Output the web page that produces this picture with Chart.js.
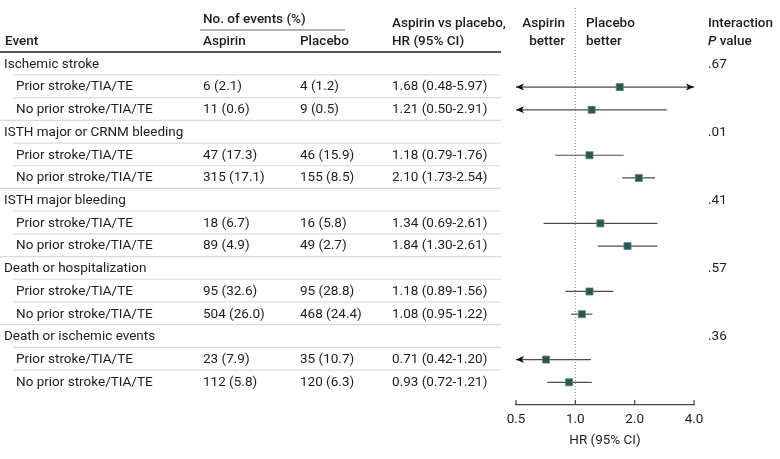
<!DOCTYPE html>
<html>
<head>
<meta charset="utf-8">
<script src="https://cdn.jsdelivr.net/npm/chart.js@4.4.1/dist/chart.umd.min.js"></script>
<style>
  html, body { margin: 0; padding: 0; background: #fff; }
  canvas { display: block; }
</style>
</head>
<body>
<canvas id="forest" width="780" height="459"></canvas>
<script>
const outcomes = ['Ischemic stroke', 'ISTH major or CRNM bleeding', 'ISTH major bleeding', 'Death or hospitalization', 'Death or ischemic events'];
const subgroups = ['Prior stroke/TIA/TE', 'No prior stroke/TIA/TE'];
const aspirinEvents = ['6 (2.1)', '11 (0.6)', '47 (17.3)', '315 (17.1)', '18 (6.7)', '89 (4.9)', '95 (32.6)', '504 (26.0)', '23 (7.9)', '112 (5.8)'];
const placeboEvents = ['4 (1.2)', '9 (0.5)', '46 (15.9)', '155 (8.5)', '16 (5.8)', '49 (2.7)', '95 (28.8)', '468 (24.4)', '35 (10.7)', '120 (6.3)'];
const hr = [1.68, 1.21, 1.18, 2.10, 1.34, 1.84, 1.18, 1.08, 0.71, 0.93];
const ciLow = [0.48, 0.50, 0.79, 1.73, 0.69, 1.30, 0.89, 0.95, 0.42, 0.72];
const ciHigh = [5.97, 2.91, 1.76, 2.54, 2.61, 2.61, 1.56, 1.22, 1.20, 1.21];
const pInteraction = ['.67', '.01', '.41', '.57', '.36'];
const xTicks = [0.5, 1, 2, 4];

const FONT = 'Roboto, "Noto Sans", sans-serif';
const SIZE = 13.5;
const TXT = '#1f1c1d';

// row index for each subgroup estimate: group rows are 0,3,6,...
const rowOf = i => 3 * Math.floor(i / 2) + 1 + (i % 2);
const points = hr.map((v, i) => ({ x: v, y: rowOf(i) }));

function txt(ctx, s, x, y, align, weight, italic) {
  ctx.font = (italic ? 'italic ' : '') + (weight || 400) + ' ' + SIZE + 'px ' + FONT;
  ctx.textAlign = align || 'left';
  ctx.textBaseline = 'middle';
  ctx.fillStyle = TXT;
  ctx.fillText(s, x, y);
}

function hline(ctx, x1, x2, y, color, w) {
  ctx.beginPath();
  ctx.strokeStyle = color;
  ctx.lineWidth = w;
  ctx.moveTo(x1, y);
  ctx.lineTo(x2, y);
  ctx.stroke();
}

function arrow(ctx, x, y, dir) {
  ctx.beginPath();
  ctx.moveTo(x, y);
  ctx.lineTo(x - dir * 8, y - 3.5);
  ctx.lineTo(x - dir * 6, y);
  ctx.lineTo(x - dir * 8, y + 3.5);
  ctx.closePath();
  ctx.fillStyle = '#111';
  ctx.fill();
}

const forestTable = {
  id: 'forestTable',
  beforeDatasetsDraw(chart) {
    const { ctx, scales: { x, y } } = chart;
    ctx.save();

    // header
    txt(ctx, 'No. of events (%)', 203, 20, 'left', 500);
    hline(ctx, 200, 345, 30, '#666', 1);
    txt(ctx, 'Event', 5, 42, 'left', 500);
    txt(ctx, 'Aspirin', 203, 42, 'left', 500);
    txt(ctx, 'Placebo', 300, 42, 'left', 500);
    txt(ctx, 'Aspirin vs placebo,', 392, 24, 'left', 500);
    txt(ctx, 'HR (95% CI)', 392, 42, 'left', 500);
    txt(ctx, 'Aspirin', 565, 24, 'right', 500);
    txt(ctx, 'better', 565, 42, 'right', 500);
    txt(ctx, 'Placebo', 586, 24, 'left', 500);
    txt(ctx, 'better', 586, 42, 'left', 500);
    txt(ctx, 'Interaction', 708, 24, 'left', 500);
    txt(ctx, 'P', 708, 42, 'left', 500, true);
    ctx.font = 'italic 500 ' + SIZE + 'px ' + FONT;
    const pw = ctx.measureText('P').width;
    txt(ctx, ' value', 708 + pw, 42, 'left', 500);
    hline(ctx, 0, 501, 52, '#555', 2);

    // rows
    outcomes.forEach((name, g) => {
      const gy = y.getPixelForValue(3 * g);
      txt(ctx, name, 4, gy);
      txt(ctx, pInteraction[g], 708, gy);
      hline(ctx, 13, 501, gy + 10.5, '#dcdcd4', 1.2);
      subgroups.forEach((sub, k) => {
        const i = 2 * g + k;
        const ry = y.getPixelForValue(rowOf(i));
        txt(ctx, sub, 16, ry);
        txt(ctx, aspirinEvents[i], 203, ry);
        txt(ctx, placeboEvents[i], 300, ry);
        txt(ctx, hr[i].toFixed(2) + ' (' + ciLow[i].toFixed(2) + '-' + ciHigh[i].toFixed(2) + ')', 392, ry);
        if (k === 0) hline(ctx, 13, 501, ry + 10.5, '#dcdcd4', 1.2);
        else if (g < outcomes.length - 1) hline(ctx, 0, 501, ry + 10.5, '#dcdcd4', 1.2);
      });
    });

    // reference line at HR = 1
    const x1 = x.getPixelForValue(1);
    ctx.beginPath();
    ctx.setLineDash([1, 2]);
    ctx.strokeStyle = '#888';
    ctx.lineWidth = 1;
    ctx.moveTo(x1, 8);
    ctx.lineTo(x1, chart.chartArea.bottom);
    ctx.stroke();
    ctx.setLineDash([]);

    // confidence intervals
    const xmin = x.min, xmax = x.max;
    hr.forEach((v, i) => {
      const ry = y.getPixelForValue(rowOf(i));
      const lo = Math.max(ciLow[i], xmin), hi = Math.min(ciHigh[i], xmax);
      const px1 = x.getPixelForValue(lo), px2 = x.getPixelForValue(hi);
      hline(ctx, px1, px2, ry, '#4d4d4d', 1.2);
      if (ciLow[i] <= xmin) arrow(ctx, px1, ry, -1);
      if (ciHigh[i] >= xmax) arrow(ctx, px2, ry, 1);
    });

    // upward tick marks on axis
    xTicks.forEach(t => {
      const px = x.getPixelForValue(t);
      ctx.beginPath();
      ctx.strokeStyle = '#444';
      ctx.lineWidth = 1.2;
      ctx.moveTo(px, chart.chartArea.bottom);
      ctx.lineTo(px, chart.chartArea.bottom - 5);
      ctx.stroke();
    });
    ctx.restore();
  }
};

new Chart(document.getElementById('forest'), {
  type: 'scatter',
  data: {
    datasets: [{
      data: points,
      pointStyle: 'rect',
      pointRadius: 5,
      pointBackgroundColor: '#2a5752',
      pointBorderColor: '#5f8580',
      pointBorderWidth: 0.8
    }]
  },
  plugins: [forestTable],
  options: {
    responsive: false,
    animation: false,
    layout: { padding: { left: 516, right: 86, top: 41.7, bottom: 0 } },
    plugins: { legend: { display: false }, tooltip: { enabled: false } },
    scales: {
      x: {
        type: 'logarithmic',
        min: 0.5,
        max: 4,
        afterBuildTicks: s => { s.ticks = xTicks.map(v => ({ value: v })); },
        afterFit: s => { s.height = 54; },
        grid: { display: false, drawTicks: false },
        border: { display: true, color: '#444', width: 1.2 },
        ticks: {
          padding: 7,
          color: TXT,
          font: { family: FONT, size: 13.5 },
          maxRotation: 0,
          callback: v => Number(v).toFixed(1)
        },
        title: {
          display: true,
          text: 'HR (95% CI)',
          color: TXT,
          font: { family: FONT, size: 13.5 },
          padding: { top: 2, bottom: 10 }
        }
      },
      y: {
        display: false,
        reverse: true,
        min: -1,
        max: 15
      }
    }
  }
});
</script>
</body>
</html>
